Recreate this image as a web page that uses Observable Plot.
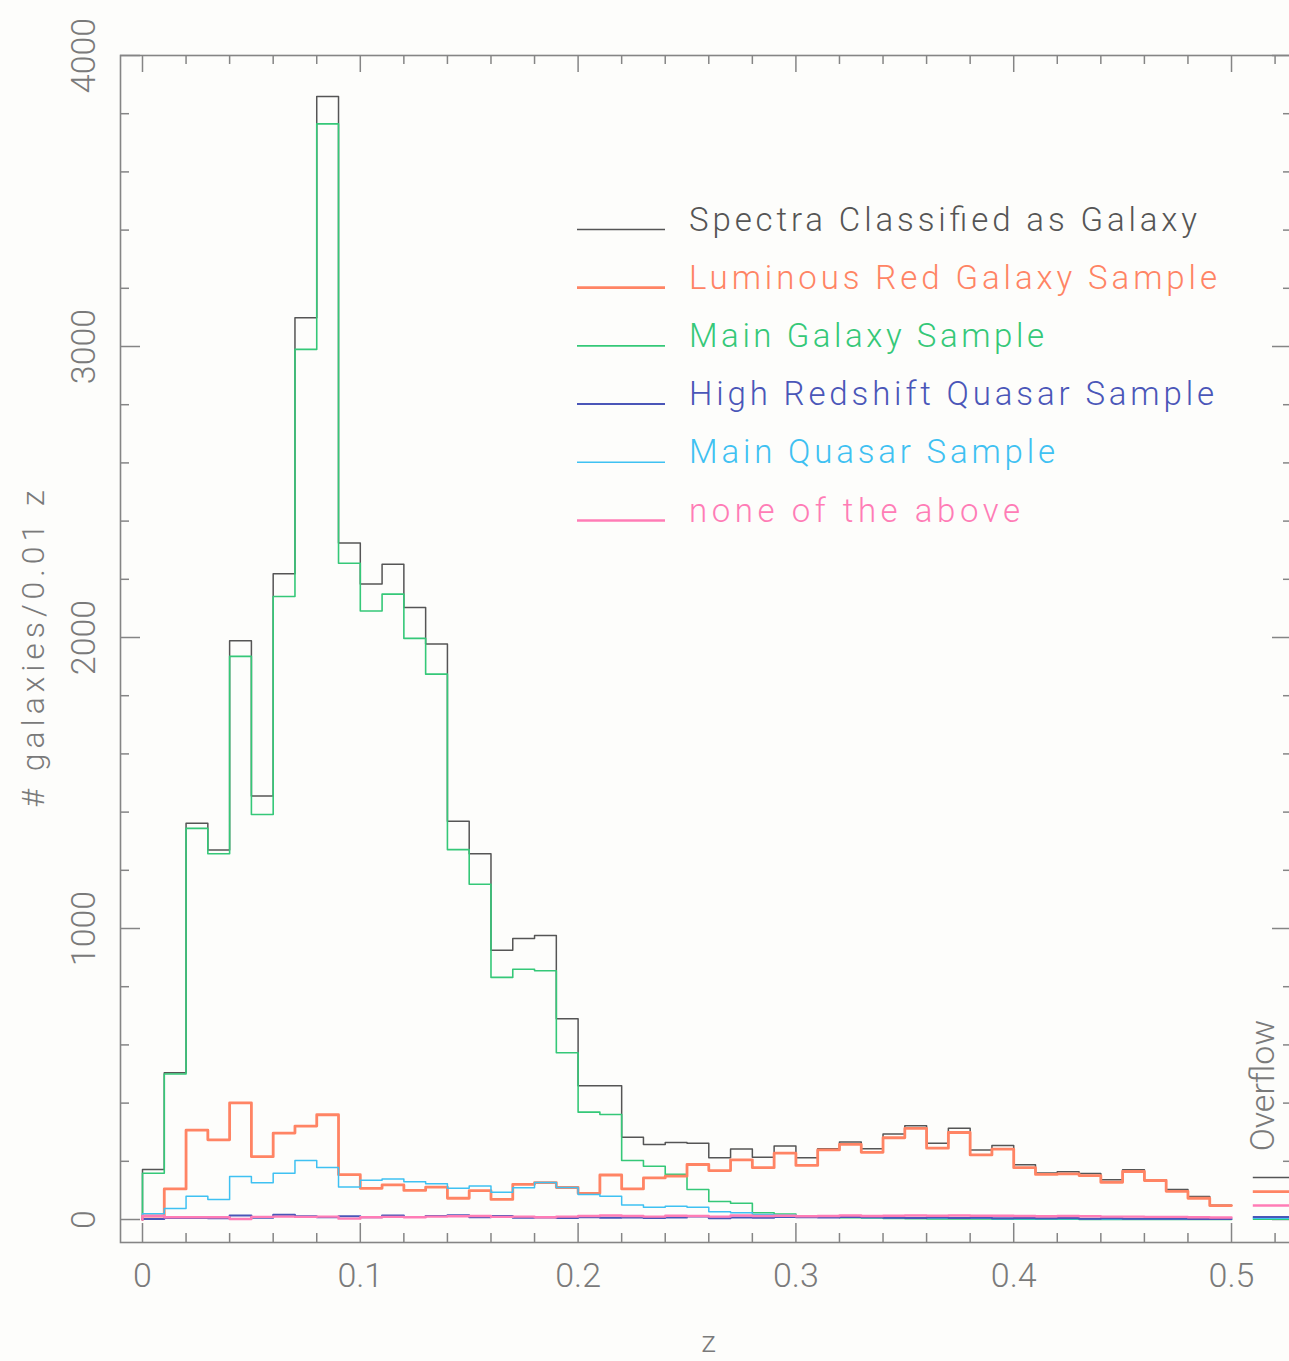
<!DOCTYPE html>
<html><head><meta charset="utf-8">
<script src="https://cdn.jsdelivr.net/npm/d3@7"></script>
<script src="https://cdn.jsdelivr.net/npm/@observablehq/plot@0.6"></script>
<style>
html,body{margin:0;padding:0;background:#fdfdfb;overflow:hidden;}
#wrap{position:relative;width:1289px;height:1361px;overflow:hidden;}
#wrap svg{max-width:none !important;display:block;}
svg text{font-weight:300;}
</style></head><body><div id="wrap"></div>
<script>
// ---- data ----
const zBins = [0,0.01,0.02,0.03,0.04,0.05,0.06,0.07,0.08,0.09,0.10,0.11,0.12,0.13,0.14,0.15,0.16,0.17,0.18,0.19,
  0.20,0.21,0.22,0.23,0.24,0.25,0.26,0.27,0.28,0.29,0.30,0.31,0.32,0.33,0.34,0.35,0.36,0.37,0.38,0.39,
  0.40,0.41,0.42,0.43,0.44,0.45,0.46,0.47,0.48,0.49];
const zEnd = 0.5;
const overflowBin = [0.51, 0.535];

const spectraGalaxy = [172,504,1362,1270,1989,1455,2219,3099,3859,2325,2184,2252,2103,1978,1369,1257,925,966,976,690,
  460,460,283,258,265,262,212,242,214,253,212,243,266,243,294,322,262,314,239,254,
  188,160,164,158,137,171,136,103,79,49];
const lrgSample = [12,105,307,274,401,216,297,321,360,154,107,119,100,111,73,99,69,121,127,110,
  90,153,105,143,149,189,168,205,178,228,186,239,258,231,281,313,245,299,222,242,
  178,155,157,151,128,165,134,97,73,48];
const mainGalaxy = [159,500,1344,1257,1935,1392,2141,2990,3765,2255,2091,2149,1997,1874,1271,1152,832,860,855,573,
  369,361,203,183,155,103,62,56,23,19,12,8,6,5,4,3,2,2,2,1,
  1,1,1,0,0,0,0,0,0,0];
const highZQuasar = [2,5,5,4,14,6,16,11,8,11,8,14,9,12,15,8,12,6,7,5,
  8,6,7,5,7,10,4,7,6,9,8,7,9,8,6,5,7,5,6,4,
  5,4,5,3,4,3,3,3,2,2];
const mainQuasar = [20,38,80,69,148,126,159,203,179,112,135,139,130,123,107,115,94,109,127,110,
  86,80,50,42,46,42,27,23,17,15,12,9,8,7,6,5,5,4,4,3,
  3,3,3,2,2,2,2,2,2,2];
const noneAbove = [12,8,8,8,2,9,10,9,10,3,8,9,8,10,11,12,9,10,8,10,
  12,14,12,10,13,12,10,14,12,13,11,12,14,12,13,14,13,14,13,13,
  12,11,12,11,10,10,9,9,8,7];

const seriesNames = ["Spectra Classified as Galaxy","Luminous Red Galaxy Sample","Main Galaxy Sample",
  "High Redshift Quasar Sample","Main Quasar Sample","none of the above"];
const seriesValues = [spectraGalaxy, lrgSample, mainGalaxy, highZQuasar, mainQuasar, noneAbove];
const overflowCounts = [144, 96, 1, 9, 4, 48];
const seriesColors = ["#555555","#ff8464","#35c878","#4a56b8","#3fc1f2","#ff7cb6"];
const seriesWidths = [1.5, 2.8, 1.6, 2, 1.5, 2.4];
const drawOrder = [0, 2, 1, 4, 3, 5];

const xMajor = [0,0.1,0.2,0.3,0.4,0.5];
const xMinor = [0.02,0.04,0.06,0.08,0.12,0.14,0.16,0.18,0.22,0.24,0.26,0.28,0.32,0.34,0.36,0.38,0.42,0.44,0.46,0.48,0.52];
const xTickLabels = ["0","0.1","0.2","0.3","0.4","0.5"];
const yMajor = [0,1000,2000,3000,4000];
const yMinor = [200,400,600,800,1200,1400,1600,1800,2200,2400,2600,2800,3200,3400,3600,3800];
const yTickLabels = ["0","1000","2000","3000","4000"];

// ---- layout ----
const W = 1300, H = 1361, mL = 120, mR = 8, mT = 55, mB = 119;
const xDomain = [-0.0101, 0.528], yDomain = [-79, 4000];
const yPerPx = (yDomain[1]-yDomain[0])/(H-mT-mB);
const xPerPx = (xDomain[1]-xDomain[0])/(W-mL-mR);
const axisColor = "#858585";
const labelColor = "#7a7a7a";
const fontStack = "Roboto, 'DejaVu Sans', sans-serif";

function stepRows(vals){
  const rows = [{z: zBins[0], n: 0}];
  vals.forEach((v,i)=>rows.push({z: zBins[i], n: v}));
  rows.push({z: zEnd, n: vals[vals.length-1]});
  return rows;
}

const marks = [];
// ticks (inward)
marks.push(Plot.ruleX(xMajor,{x:d=>d, y1:yDomain[0], y2:yDomain[0]+19*yPerPx, stroke:axisColor, strokeWidth:1.5}));
marks.push(Plot.ruleX(xMinor,{x:d=>d, y1:yDomain[0], y2:yDomain[0]+9*yPerPx, stroke:axisColor, strokeWidth:1.5}));
marks.push(Plot.ruleX(xMajor,{x:d=>d, y1:yDomain[1], y2:yDomain[1]-17*yPerPx, stroke:axisColor, strokeWidth:1.5}));
marks.push(Plot.ruleX(xMinor,{x:d=>d, y1:yDomain[1], y2:yDomain[1]-9*yPerPx, stroke:axisColor, strokeWidth:1.5}));
marks.push(Plot.ruleY(yMajor,{y:d=>d, x1:xDomain[0], x2:xDomain[0]+20*xPerPx, stroke:axisColor, strokeWidth:1.5}));
marks.push(Plot.ruleY(yMinor,{y:d=>d, x1:xDomain[0], x2:xDomain[0]+9*xPerPx, stroke:axisColor, strokeWidth:1.5}));
marks.push(Plot.ruleY(yMajor,{y:d=>d, x1:xDomain[1], x2:xDomain[1]-20*xPerPx, stroke:axisColor, strokeWidth:1.5}));
marks.push(Plot.ruleY(yMinor,{y:d=>d, x1:xDomain[1], x2:xDomain[1]-9*xPerPx, stroke:axisColor, strokeWidth:1.5}));

// histograms
for (const i of drawOrder){
  marks.push(Plot.line(stepRows(seriesValues[i]), {x:"z", y:"n", curve:"step-after",
    stroke: seriesColors[i], strokeWidth: seriesWidths[i], clip:true}));
}
// overflow
for (const i of drawOrder){
  marks.push(Plot.ruleY([overflowCounts[i]], {y:d=>d, x1: overflowBin[0], x2: overflowBin[1],
    stroke: seriesColors[i], strokeWidth: seriesWidths[i], clip:true}));
}
marks.push(Plot.frame({stroke: axisColor, strokeWidth: 1.6}));

// tick labels
marks.push(Plot.text(xMajor, {x:d=>d, frameAnchor:"bottom", dy:34, text:(d,i)=>xTickLabels[i],
  fontSize:34, fill:labelColor, textAnchor:"middle", lineAnchor:"middle"}));
marks.push(Plot.text(yMajor, {y:d=>d, frameAnchor:"left", dx:-36, text:(d,i)=>yTickLabels[i],
  fontSize:34, fill:labelColor, textAnchor:"middle", lineAnchor:"middle", rotate:-90}));
// axis titles
marks.push(Plot.text(["# galaxies/0.01 z"], {frameAnchor:"left", dx:-87, text:d=>d, fontSize:32,
  fill:labelColor, rotate:-90, textAnchor:"middle", lineAnchor:"middle"}));
marks.push(Plot.text(["z"], {frameAnchor:"bottom", dy:100, dx:2, text:d=>d, fontSize:30,
  fill:labelColor, textAnchor:"middle", lineAnchor:"middle"}));
// overflow label
marks.push(Plot.text(["Overflow"], {x: overflowBin[0] + 0.0045, y: 460, text:d=>d, fontSize:34,
  fill:labelColor, rotate:-90, textAnchor:"middle", lineAnchor:"middle"}));

const svg = Plot.plot({
  width: W, height: H, marginLeft: mL, marginRight: mR, marginTop: mT, marginBottom: mB,
  x: {domain: xDomain, axis: null},
  y: {domain: yDomain, axis: null},
  style: {background: "transparent", fontFamily: fontStack, maxWidth: "none"},
  marks
});

// legend (in-plot annotation)
const legendWidths = [508, 528, 355, 525, 366, 331];
const g = d3.select(svg).append("g").attr("class","legend").attr("text-anchor","start");
seriesNames.forEach((name, i) => {
  const yy = 229.5 + i*58.2;
  g.append("line").attr("x1",577).attr("x2",665).attr("y1",yy).attr("y2",yy)
    .attr("stroke", seriesColors[i]).attr("stroke-width", seriesWidths[i]);
  g.append("text").attr("x",689).attr("y",yy+1).text(name)
    .attr("text-anchor","start")
    .attr("fill", i===0 ? "#555" : seriesColors[i]).attr("font-size",33)
    .attr("textLength", legendWidths[i]).attr("lengthAdjust","spacing")
    .style("font-family", fontStack).style("font-weight",300);
});
// title text length
d3.select(svg).selectAll("text").each(function(){
  if (this.textContent === "# galaxies/0.01 z") { this.setAttribute("textLength", 317); this.setAttribute("lengthAdjust","spacing"); }
});

document.getElementById("wrap").appendChild(svg);
</script></body></html>
